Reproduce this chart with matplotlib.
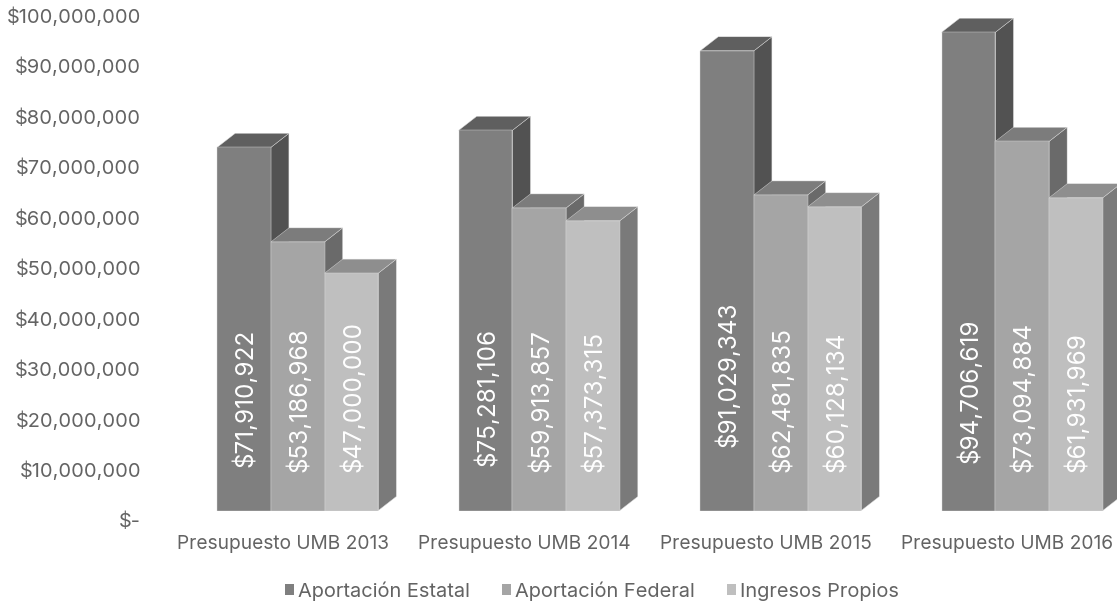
import matplotlib
matplotlib.use('Agg')
from matplotlib import pyplot as plt
from matplotlib.patches import Polygon, Patch
from matplotlib.transforms import ScaledTranslation

years = ['Presupuesto UMB 2013', 'Presupuesto UMB 2014', 'Presupuesto UMB 2015', 'Presupuesto UMB 2016']
estatal = [71910922, 75281106, 91029343, 94706619]
federal = [53186968, 59913857, 62481835, 73094884]
propios = [47000000, 57373315, 60128134, 61931969]
series_names = ['Aportación Estatal', 'Aportación Federal', 'Ingresos Propios']
yticks = list(range(0, 100000001, 10000000))
ytick_labels = ['$-'] + ['${:,}'.format(v) for v in yticks[1:]]

# layout, in pixels of the 1117x602 picture
W, H = 1117, 602
group_step = 241.5
bar_w = 53.7
px_per_dollar = 5.05e-6
base_px = 510.5
left_px = 162
depth_x = 18 / group_step
depth_y = 14 / px_per_dollar
bar_shift = 15 / group_step
bar_width = bar_w / group_step

front = ['#7f7f7f', '#a5a5a5', '#bfbfbf']
side = ['#525252', '#6a6a6a', '#7a7a7a']
top = ['#5f5f5f', '#7c7c7c', '#8e8e8e']
edge = '#d9d9d9'
text_col = '#636363'
font = ['Inter', 'DejaVu Sans']

# where the rotated labels end (bottom edge, pixel row)
label_bottom = [[467, 472, 472], [466, 472, 472], [447, 472, 472], [463, 472, 472]]

plt.rcParams['font.family'] = font

fig = plt.figure(figsize=(W / 100, H / 100), dpi=100)
ax = fig.add_axes([left_px / W, (H - base_px) / H, (W - left_px) / W, base_px / H])
ax.set_xlim(-0.5, -0.5 + (W - left_px) / group_step)
ax.set_ylim(0, base_px / px_per_dollar)
for s in ax.spines.values():
    s.set_visible(False)
ax.patch.set_visible(False)

z = 2
for i in range(len(years)):
    vals = [estatal[i], federal[i], propios[i]]
    for j in range(3):
        x0 = i + bar_shift + (j - 1.5) * bar_width
        x1 = x0 + bar_width
        v = vals[j]
        ax.add_patch(Polygon([(x1, 0), (x1 + depth_x, depth_y), (x1 + depth_x, v + depth_y), (x1, v)],
                             closed=True, fc=side[j], ec=edge, lw=0.3, zorder=z))
        ax.add_patch(Polygon([(x0, v), (x1, v), (x1 + depth_x, v + depth_y), (x0 + depth_x, v + depth_y)],
                             closed=True, fc=top[j], ec=edge, lw=0.3, zorder=z))
        ax.bar(x0, v, width=bar_width, align='edge', color=front[j], edgecolor=edge, linewidth=0.3, zorder=z + 1)
        ax.text(x0 + bar_width / 2 + 1 / group_step, (base_px - label_bottom[i][j]) / px_per_dollar, '${:,}'.format(v),
                rotation=90, ha='center', va='bottom', color='white', fontsize=17.5, zorder=50)
        z += 2

ax.set_xticks(range(len(years)))
ax.set_xticklabels(years, color=text_col, fontsize=13.8)
ax.tick_params(axis='x', length=0, pad=17.5)
ax.set_yticks(yticks)
ax.set_yticklabels(ytick_labels, color=text_col, fontsize=14.4)
ax.tick_params(axis='y', length=0, pad=15)
# the value labels sit a bit lower than the front-face scale
shift = ScaledTranslation(0, -9.5 / 100, fig.dpi_scale_trans)
for lab in ax.get_yticklabels():
    lab.set_transform(lab.get_transform() + shift)

handles = [Patch(fc=front[k], ec='none') for k in range(3)]
fig.legend(handles, series_names, ncol=3, loc='center', bbox_to_anchor=(592 / W, (H - 591) / H),
           frameon=False, fontsize=14.4, labelcolor=text_col, handlelength=0.46, handleheight=0.46,
           handletextpad=0.2, columnspacing=1.6)

fig.savefig('out.png', dpi=100)
